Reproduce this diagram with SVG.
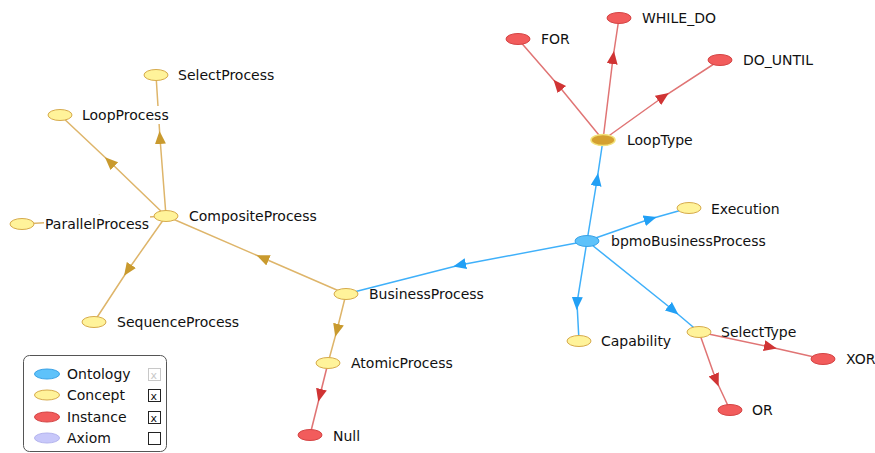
<svg xmlns="http://www.w3.org/2000/svg" width="875" height="453" viewBox="0 0 875 453">
<defs>
<style>
text{font-family:"DejaVu Sans","Liberation Sans",sans-serif;font-size:14px;fill:#111}
.eb{fill:none;stroke:#3fb0fa;stroke-width:1.5}
.eg{fill:none;stroke:#deb56a;stroke-width:1.5}
.er{fill:none;stroke:#e07474;stroke-width:1.5}
.eb{marker-mid:url(#ab)}
.eg{marker-mid:url(#ag)}
.er{marker-mid:url(#ar)}
.nb{fill:#5ec2fa;stroke:#3aa2e6;stroke-width:1}
.ny{fill:#fff39a;stroke:#d6aa4c;stroke-width:1}
.nr{fill:#f25c5c;stroke:#d44444;stroke-width:1}
.nl{fill:#d4a030;stroke:#f2e27a;stroke-width:1.5}
.bg{fill:#fff}
</style>
<marker id="ab" markerUnits="userSpaceOnUse" markerWidth="14" markerHeight="12" refX="6" refY="5.5" orient="auto"><path d="M0,0 L13,5.5 L0,11 z" fill="#22a0f5"/></marker>
<marker id="ag" markerUnits="userSpaceOnUse" markerWidth="14" markerHeight="12" refX="6" refY="5.5" orient="auto"><path d="M0,0 L13,5.5 L0,11 z" fill="#c99a2e"/></marker>
<marker id="ar" markerUnits="userSpaceOnUse" markerWidth="14" markerHeight="12" refX="6" refY="5.5" orient="auto"><path d="M0,0 L13,5.5 L0,11 z" fill="#d03434"/></marker>
</defs>
<rect width="875" height="453" fill="#fff"/>
<g id="connectors">
<polyline class="er" points="603,140 558,85 518,39"/>
<polyline class="er" points="603,140 613,58 619,18"/>
<polyline class="er" points="603,140 663,97 720,60"/>
<polyline class="eb" points="587,241 597,180 603,140"/>
<polyline class="eb" points="587,241 650,219 689,208"/>
<polyline class="eb" points="587,241 460,265 346,294"/>
<polyline class="eb" points="587,241 577,303 579,341"/>
<polyline class="eb" points="587,241 673,310 699,332"/>
<polyline class="er" points="699,332 770,347 823,359"/>
<polyline class="er" points="699,332 716,380 730,410"/>
<polyline class="eg" points="346,294 263,258 166,216"/>
<polyline class="eg" points="346,294 337,330 328,363"/>
<polyline class="er" points="328,363 320,395 310,435"/>
<polyline class="eg" points="166,216 110,162 60,115"/>
<polyline class="eg" points="166,216 160,138 156,75"/>
<polyline class="eg" points="166,216 94,220 22,224"/>
<polyline class="eg" points="166,216 128,270 94,322"/>
</g>
<g id="n-while"><ellipse class="nr" cx="619" cy="18" rx="12" ry="5.5"/><text x="642" y="23">WHILE_DO</text></g>
<g id="n-for"><ellipse class="nr" cx="518" cy="39" rx="12" ry="5.5"/><text x="541" y="44">FOR</text></g>
<g id="n-dountil"><ellipse class="nr" cx="720" cy="60" rx="12" ry="5.5"/><text x="743" y="65">DO_UNTIL</text></g>
<g id="n-looptype"><ellipse class="nl" cx="603" cy="140" rx="12" ry="5.5"/><text x="627" y="145">LoopType</text></g>
<g id="n-execution"><ellipse class="ny" cx="689" cy="208" rx="12" ry="5.5"/><text x="711" y="214">Execution</text></g>
<g id="n-bpmo"><ellipse class="nb" cx="587" cy="241" rx="12" ry="5.5"/><text x="611" y="246">bpmoBusinessProcess</text></g>
<g id="n-selectprocess"><ellipse class="ny" cx="156" cy="75" rx="12" ry="5.5"/><text x="178" y="80">SelectProcess</text></g>
<g id="n-loopprocess"><ellipse class="ny" cx="60" cy="115" rx="12" ry="5.5"/><rect class="bg" x="80" y="106" width="92" height="18"/><text x="82" y="120">LoopProcess</text></g>
<g id="n-composite"><ellipse class="ny" cx="166" cy="216" rx="12" ry="5.5"/><text x="189" y="221">CompositeProcess</text></g>
<g id="n-parallel"><ellipse class="ny" cx="22" cy="224" rx="12" ry="5.5"/><rect class="bg" x="44" y="215" width="106" height="18"/><text x="45" y="229">ParallelProcess</text></g>
<g id="n-sequence"><ellipse class="ny" cx="94" cy="322" rx="12" ry="5.5"/><text x="117" y="327">SequenceProcess</text></g>
<g id="n-business"><ellipse class="ny" cx="346" cy="294" rx="12" ry="5.5"/><text x="369" y="299">BusinessProcess</text></g>
<g id="n-atomic"><ellipse class="ny" cx="328" cy="363" rx="12" ry="5.5"/><text x="351" y="368">AtomicProcess</text></g>
<g id="n-null"><ellipse class="nr" cx="310" cy="435" rx="12" ry="5.5"/><text x="333" y="441">Null</text></g>
<g id="n-capability"><ellipse class="ny" cx="579" cy="341" rx="12" ry="5.5"/><text x="601" y="346">Capability</text></g>
<g id="n-selecttype"><ellipse class="ny" cx="699" cy="332" rx="12" ry="5.5"/><text x="721" y="337">SelectType</text></g>
<g id="n-xor"><ellipse class="nr" cx="823" cy="359" rx="12" ry="5.5"/><text x="846" y="364">XOR</text></g>
<g id="n-or"><ellipse class="nr" cx="730" cy="410" rx="12" ry="5.5"/><text x="752" y="415">OR</text></g>
<g id="legend">
<rect x="23.5" y="355.5" width="143" height="96" rx="6" fill="#fff" stroke="#555" stroke-width="1"/>
<ellipse class="nb" cx="47" cy="374" rx="12.5" ry="5"/><text x="67" y="379">Ontology</text>
<ellipse class="ny" cx="47" cy="395" rx="12.5" ry="5"/><text x="67" y="400">Concept</text>
<ellipse class="nr" cx="47" cy="417" rx="12.5" ry="5"/><text x="67" y="422">Instance</text>
<ellipse cx="47" cy="438" rx="12.5" ry="5" fill="#c8c8fa" stroke="#b4b4ee"/><text x="67" y="443">Axiom</text>
<rect x="148.5" y="368.5" width="12" height="12" fill="#fff" stroke="#c8c8c8"/><text x="150.5" y="379" style="font-size:11px;fill:#c8c8c8">x</text>
<rect x="148.5" y="389.5" width="12" height="12" fill="#fff" stroke="#222"/><text x="150.5" y="400" style="font-size:11px">x</text>
<rect x="148.5" y="411.5" width="12" height="12" fill="#fff" stroke="#222"/><text x="150.5" y="422" style="font-size:11px">x</text>
<rect x="148.5" y="432.5" width="12" height="12" fill="#fff" stroke="#222"/>
</g>
</svg>
